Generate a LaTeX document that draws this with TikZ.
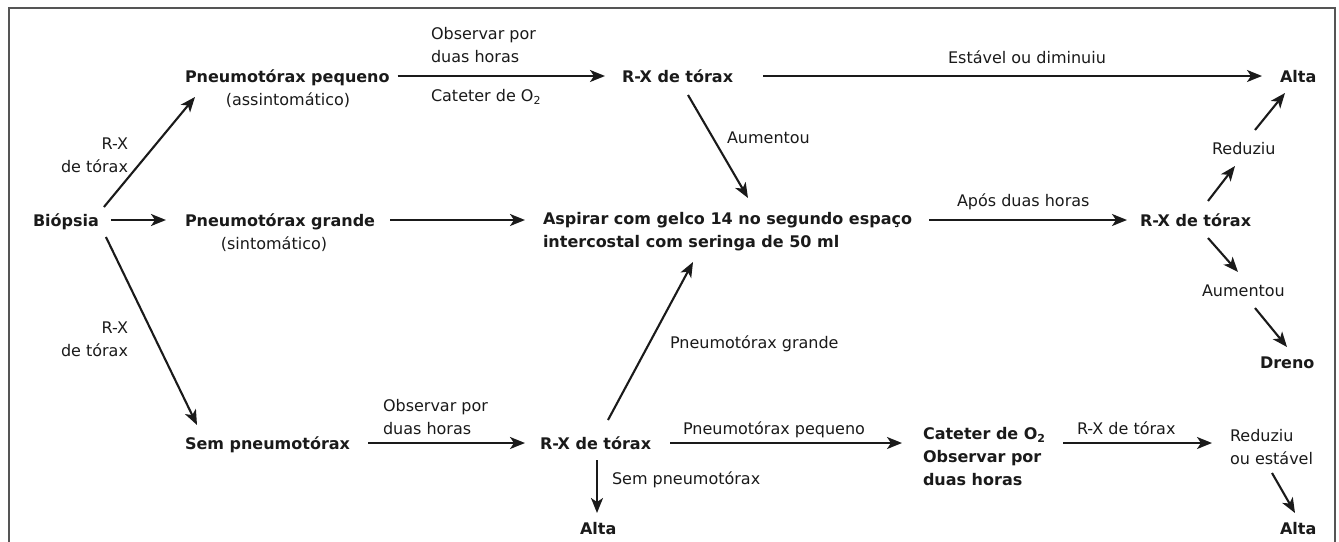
\documentclass[tikz,border=0pt]{standalone}
\usepackage{fontspec}
\setmainfont{DejaVu Sans}
\usetikzlibrary{arrows.meta}
\definecolor{txt}{HTML}{1A1A1A}
\definecolor{framec}{HTML}{555555}
\newcommand\mystrut{\rule{0pt}{14pt}}
\newcommand\subtwo{\raisebox{-0.22em}{\fontsize{11}{11}\selectfont 2}}
\begin{document}
\begin{tikzpicture}[x=1pt,y=-1pt,
  every node/.style={inner sep=0pt, outer sep=0pt, text=txt},
  bnode/.style={font=\fontsize{16}{23}\selectfont\bfseries, anchor=base west},
  lbl/.style={font=\fontsize{16}{23}\selectfont, anchor=base west},
  bmulti/.style={font=\fontsize{16}{23}\selectfont\bfseries, anchor=north west, align=left},
  lmulti/.style={font=\fontsize{16}{23}\selectfont, anchor=north west, align=left},
  rmulti/.style={font=\fontsize{16}{23}\selectfont, anchor=north east, align=right},
  arr/.style={line width=2.1pt, draw=txt, -{Stealth[length=15pt,width=12pt,inset=4pt]}},
  frameline/.style={line width=2.2pt, draw=framec},
]
\useasboundingbox (0,0) rectangle (1339,541);
\draw[frameline] (9,560) -- (9,8) -- (1335,8) -- (1335,560);

% main nodes
\node[bnode] (biop) at (33,226) {Biópsia};
\node[bnode] (peq) at (185,82) {Pneumotórax pequeno};
\node[lbl, anchor=base] (peqs) at (288,105) {(assintomático)};
\node[bnode] (grande) at (185,226) {Pneumotórax grande};
\node[lbl, anchor=base] (grandes) at (274,249) {(sintomático)};
\node[bnode] (sem) at (185,449) {Sem pneumotórax};
\node[bnode] (rxA) at (622,82) {R-X de tórax};
\node[bnode] (altaA) at (1280,82) {Alta};
\node[bmulti] (asp) at (543,210) {\mystrut Aspirar com gelco 14 no segundo espaço\\intercostal com seringa de 50 ml};
\node[bnode] (rxB) at (1140,226) {R-X de tórax};
\node[lbl] (red1) at (1212,154) {Reduziu};
\node[lbl] (aum2) at (1202,296) {Aumentou};
\node[bnode] (dreno) at (1260,368) {Dreno};
\node[bnode] (rxC) at (540,449) {R-X de tórax};
\node[bnode] (altaC) at (580,534) {Alta};
\node[bmulti] (cat) at (923,425) {\mystrut Cateter de O\subtwo\\Observar por\\duas horas};
\node[lmulti] (red2) at (1230,427) {\mystrut Reduziu\\ou estável};
\node[bnode] (altaD) at (1280,534) {Alta};

% labels
\node[rmulti] (l1) at (128,135) {\mystrut R-X\\de tórax};
\node[rmulti] (l2) at (128,319) {\mystrut R-X\\de tórax};
\node[lmulti] (l3) at (431,25) {\mystrut Observar por\\duas horas};
\node[lbl] (l4) at (431,101) {Cateter de O\subtwo};
\node[lbl] (l5) at (727,143) {Aumentou};
\node[lbl, anchor=base] (l6) at (1027,63) {Estável ou diminuiu};
\node[lbl] (l7) at (957,206) {Após duas horas};
\node[lmulti] (l8) at (383,397) {\mystrut Observar por\\duas horas};
\node[lbl] (l9) at (670,348) {Pneumotórax grande};
\node[lbl] (l10) at (683,434) {Pneumotórax pequeno};
\node[lbl] (l11) at (612,484) {Sem pneumotórax};
\node[lbl] (l12) at (1077,434) {R-X de tórax};

% connectors
\draw[arr] ([shift={(5,-19)}]biop.base east) -- ([shift={(10,15)}]peq.base west);
\draw[arr] ([shift={(12,-6)}]biop.base east) -- ([shift={(-19,-6)}]grande.base west);
\draw[arr] ([shift={(7,11)}]biop.base east) -- ([shift={(12,-24)}]sem.base west);
\draw[arr] ([shift={(8,-6)}]peq.base east) -- ([shift={(-17,-6)}]rxA.base west);
\draw[arr] ([shift={(15,-6)}]grande.base east) -- ([shift={(-18,10)}]asp.north west);
\draw[arr] ([shift={(18,-6)}]sem.base east) -- ([shift={(-15,-6)}]rxC.base west);
\draw[arr] ([shift={(30,-6)}]rxA.base east) -- ([shift={(-18,-6)}]altaA.base west);
\draw[arr] ([shift={(66,13)}]rxA.base west) -- ([shift={(205,-12)}]asp.north west);
\draw[arr] ([shift={(68,-29)}]rxC.base west) -- ([shift={(150,52)}]asp.north west);
\draw[arr] ([shift={(57,11)}]rxC.base west) -- ([shift={(17,-21)}]altaC.base west);
\draw[arr] ([shift={(19,-6)}]rxC.base east) -- ([shift={(-21,18)}]cat.north west);
\draw[arr] ([shift={(17,10)}]asp.north east) -- ([shift={(-13,-6)}]rxB.base west);
\draw[arr] ([shift={(68,-25)}]rxB.base west) -- ([shift={(23,12)}]red1.base west);
\draw[arr] ([shift={(43,-24)}]red1.base west) -- ([shift={(5,11)}]altaA.base west);
\draw[arr] ([shift={(68,12)}]rxB.base west) -- ([shift={(36,-24)}]aum2.base west);
\draw[arr] ([shift={(53,12)}]aum2.base west) -- ([shift={(27,-21)}]dreno.base west);
\draw[arr] ([shift={(140,18)}]cat.north west) -- ([shift={(-18,16)}]red2.north west);
\draw[arr] ([shift={(42,46)}]red2.north west) -- ([shift={(15,-21)}]altaD.base west);
\end{tikzpicture}
\end{document}
